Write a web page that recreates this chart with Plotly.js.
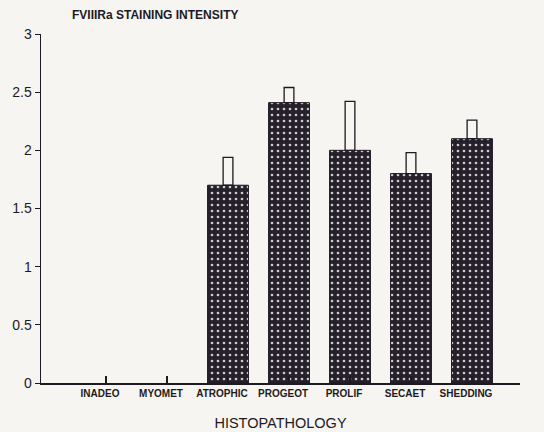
<!DOCTYPE html>
<html>
<head>
<meta charset="utf-8">
<script src="https://cdn.plot.ly/plotly-3.0.1.min.js"></script>
<style>
  html, body { margin: 0; padding: 0; background: #f7f5f1; }
  #chart { width: 544px; height: 432px; }
</style>
</head>
<body>
<div id="chart"></div>
<script>
// Categories (histopathology groups)
var categories = ["INADEO", "MYOMET", "ATROPHIC", "PROGEOT", "PROLIF", "SECAET", "SHEDDING"];
// Mean FVIIIRa staining intensity (no bar drawn for the first two groups)
var meanValues = [null, null, 1.70, 2.41, 2.00, 1.80, 2.10];
// Upper end of error bar (mean + SE)
var upperValues = [null, null, 1.94, 2.54, 2.42, 1.98, 2.26];
// Y tick values
var yTicks = [0, 0.5, 1, 1.5, 2, 2.5, 3];
var yTickText = ["0", "0.5", "1", "1.5", "2", "2.5", "3"];

var errHeights = meanValues.map(function (v, i) {
  return (upperValues[i] == null || v == null) ? null : upperValues[i] - v;
});

var ink = "#1e1a22";
var fontFam = "Liberation Sans, Arial, sans-serif";

var barTrace = {
  type: "bar",
  x: categories,
  y: meanValues,
  width: 0.67,
  marker: {
    color: "#25202a",
    line: { color: ink, width: 1 },
    pattern: { shape: ".", bgcolor: "#25202a", fgcolor: "#cfcad0", size: 6, solidity: 0.16 }
  },
  hoverinfo: "skip",
  showlegend: false
};

var errTrace = {
  type: "bar",
  x: categories,
  y: errHeights,
  base: meanValues,
  width: 0.16,
  marker: { color: "rgba(0,0,0,0)", line: { color: ink, width: 1.3 } },
  hoverinfo: "skip",
  showlegend: false
};

var layout = {
  width: 544,
  height: 432,
  paper_bgcolor: "#f7f5f1",
  plot_bgcolor: "#f7f5f1",
  margin: { l: 41, r: 24, t: 34, b: 49, pad: 0 },
  barmode: "overlay",
  font: { family: fontFam, color: ink },
  annotations: [{
    text: "FVIIIRa STAINING INTENSITY",
    font: { size: 12, family: fontFam, color: ink, weight: "bold" },
    xref: "paper", yref: "paper",
    x: 0.238, xanchor: "center",
    y: 1 + 19 / 349, yanchor: "middle",
    showarrow: false
  }],
  xaxis: {
    type: "category",
    range: [-1.066, 6.787],
    showline: true, linecolor: ink, linewidth: 1.5,
    ticks: "inside", ticklen: 7, tickcolor: ink, tickwidth: 1.5,
    showgrid: false, zeroline: false,
    ticklabelshift: -6,
    tickfont: { size: 10, family: fontFam, color: ink, weight: "bold" },
    title: {
      text: "HISTOPATHOLOGY",
      font: { size: 14.5, family: fontFam, color: ink },
      standoff: 20
    },
    fixedrange: true
  },
  yaxis: {
    range: [0, 3],
    tickvals: yTicks,
    ticktext: yTickText,
    showline: true, linecolor: ink, linewidth: 1.5,
    ticks: "outside", ticklen: 5, tickcolor: ink, tickwidth: 1,
    showgrid: false, zeroline: false,
    tickfont: { size: 14, family: fontFam, color: ink },
    fixedrange: true
  }
};

Plotly.newPlot("chart", [barTrace, errTrace], layout, { staticPlot: true, displayModeBar: false });
</script>
</body>
</html>
